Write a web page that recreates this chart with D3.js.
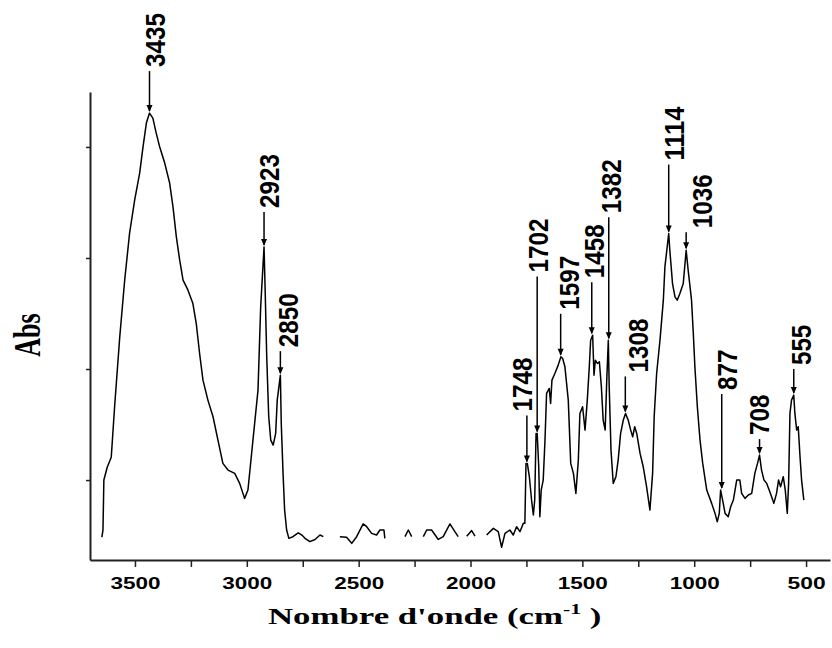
<!DOCTYPE html>
<html>
<head>
<meta charset="utf-8">
<script src="https://cdn.jsdelivr.net/npm/d3@7"></script>
<style>
  body { margin: 0; background: #fff; }
  #chart { width: 832px; height: 648px; }
  .axis path, .axis line { stroke: #222; }
</style>
</head>
<body>
<div id="chart"></div>
<script>
// spectrum (null = gap in the trace)
const wavenumber = [
  3648, 3643, 3639, 3624, 3606, 3591, 3568, 3546, 3524, 3501, 3479, 3464, 3449, 3435, 3420, 3405,
  3390, 3367, 3345, 3330, 3315, 3300, 3285, 3263, 3241, 3226, 3211, 3196, 3174, 3151, 3129, 3107,
  3084, 3054, 3032, 3010, 2995, 2980, 2965, 2950, 2938, 2923, 2918, 2911, 2902, 2893, 2882, 2871,
  2864, 2850, 2846, 2838, 2831, 2822, 2812, 2794, 2770, 2754, 2740, 2718, 2695, 2673, 2658, 2620,
  2584, 2554, 2531, 2509, 2480, 2464, 2442, 2420, 2405, 2387, 2383, 2340, 2293, 2278, 2263, 2240,
  2211, 2196, 2174, 2144, 2122, 2092, 2070, 2055, 2035, 2017, 1995, 1980, 1955, 1928, 1898, 1876,
  1861, 1846, 1824, 1809, 1794, 1779, 1764, 1757, 1752, 1746, 1737, 1727, 1719, 1713, 1707, 1702,
  1695, 1690, 1684, 1675, 1667, 1660, 1648, 1642, 1636, 1623, 1608, 1596, 1588, 1578, 1563, 1552,
  1540, 1529, 1518, 1511, 1499, 1488, 1478, 1469, 1463, 1454, 1448, 1442, 1433, 1424, 1415, 1407,
  1398, 1391, 1384, 1380, 1372, 1362, 1350, 1340, 1329, 1317, 1307, 1295, 1284, 1275, 1266, 1257,
  1242, 1228, 1213, 1198, 1186, 1179, 1168, 1153, 1138, 1131, 1114, 1109, 1097, 1086, 1076, 1064,
  1049, 1036, 1027, 1012, 1004, 997, 986, 974, 962, 944, 922, 907, 897, 888, 882, 873,
  862, 848, 837, 825, 810, 796, 788, 773, 758, 743, 729, 717, 708, 699, 688, 676,
  665, 654, 644, 632, 623, 614, 602, 593, 584, 578, 572, 565, 555, 550, 542, 535,
  527, 520, 510
];
const absorbance = [
  0.097, 0.110, 0.200, 0.223, 0.241, 0.332, 0.458, 0.560, 0.645, 0.705, 0.753, 0.800, 0.843, 0.861, 0.852, 0.825,
  0.801, 0.771, 0.735, 0.692, 0.638, 0.596, 0.560, 0.542, 0.518, 0.482, 0.428, 0.380, 0.344, 0.314, 0.272, 0.230,
  0.218, 0.212, 0.194, 0.167, 0.182, 0.242, 0.302, 0.362, 0.512, 0.620, 0.542, 0.422, 0.314, 0.272, 0.263, 0.284,
  0.344, 0.389, 0.302, 0.212, 0.146, 0.110, 0.095, 0.098, 0.105, 0.101, 0.095, 0.089, 0.093, 0.101, 0.098, null,
  0.098, 0.097, 0.086, 0.098, 0.121, 0.116, 0.104, 0.101, 0.110, 0.110, 0.095, null, 0.098, 0.110, 0.098, null,
  0.098, 0.110, 0.110, 0.093, 0.098, 0.121, 0.107, 0.098, null, 0.099, 0.109, 0.099, null, 0.101, 0.113, 0.107,
  0.079, 0.104, 0.110, 0.101, 0.116, 0.107, 0.122, 0.122, 0.230, 0.230, 0.206, 0.164, 0.137, 0.164, 0.284, 0.284,
  0.224, 0.134, 0.182, 0.200, 0.272, 0.356, 0.365, 0.338, 0.380, 0.392, 0.407, 0.422, 0.419, 0.404, 0.344, 0.230,
  0.212, 0.176, 0.236, 0.320, 0.332, 0.290, 0.344, 0.404, 0.452, 0.461, 0.389, 0.416, 0.410, 0.413, 0.368, 0.308,
  0.290, 0.380, 0.452, 0.368, 0.254, 0.194, 0.206, 0.236, 0.284, 0.308, 0.320, 0.308, 0.290, 0.278, 0.296, 0.284,
  0.248, 0.224, 0.188, 0.146, 0.212, 0.314, 0.392, 0.452, 0.524, 0.584, 0.644, 0.614, 0.554, 0.530, 0.524, 0.536,
  0.554, 0.614, 0.578, 0.524, 0.464, 0.404, 0.332, 0.272, 0.230, 0.182, 0.158, 0.140, 0.125, 0.140, 0.182, 0.164,
  0.140, 0.134, 0.152, 0.164, 0.200, 0.200, 0.176, 0.167, 0.173, 0.176, 0.212, 0.230, 0.245, 0.218, 0.200, 0.194,
  0.182, 0.170, 0.158, 0.176, 0.200, 0.188, 0.206, 0.182, 0.140, 0.194, 0.320, 0.344, 0.353, 0.320, 0.290, 0.296,
  0.242, 0.200, 0.164
];

// annotated peaks
const peakWavenumber = [3435, 2923, 2850, 1748, 1702, 1597, 1458, 1382, 1308, 1114, 1036, 877, 708, 555];
const peakAbsorbance = [0.861, 0.620, 0.389, 0.230, 0.284, 0.422, 0.461, 0.452, 0.320, 0.644, 0.614, 0.182, 0.245, 0.353];

// axes
const xTicks = [3500, 3250, 3000, 2750, 2500, 2250, 2000, 1750, 1500, 1250, 1000, 750, 500];
const xTickLabels = ["3500", "", "3000", "", "2500", "", "2000", "", "1500", "", "1000", "", "500"];
const yTicks = [0.2, 0.4, 0.6, 0.8];

// label placement (px): gap between label and peak, sideways nudge
const labelGap = [46, 39, 28, 52, 161, 47, 57, 127, 41, 73, 22, 100, 20, 30];
const labelShift = [6, 5, 8, -5, 1, 8, 2, 2, 13, 5, 16, 5, 0, 7];

// the source picture is stretched sideways
const stretchX = 1.45;

class IrSpectrum {
  constructor(el, { wavenumber, absorbance, peakWavenumber, peakAbsorbance }) {
    this.el = el;
    this.wavenumber = wavenumber;
    this.absorbance = absorbance;
    this.peakWavenumber = peakWavenumber;
    this.peakAbsorbance = peakAbsorbance;
    this.init();
  }

  init() {
    this.setup();
    this.scaffold();
    this.wrangle();
    this.render();
  }

  setup() {
    this.width = 832;
    this.height = 648;
    this.x = d3.scaleLinear().domain([3701, 393]).range([90, 830]);
    this.y = d3.scaleLinear().domain([0.056, 0.899]).range([560, 92]);
  }

  scaffold() {
    this.svg = d3
      .select(this.el)
      .append("svg")
      .attr("width", this.width)
      .attr("height", this.height);
    this.gx = this.svg.append("g").attr("class", "axis x-axis");
    this.gy = this.svg.append("g").attr("class", "axis y-axis");
    this.pathLine = this.svg
      .append("path")
      .attr("fill", "none")
      .attr("stroke", "#000")
      .attr("stroke-width", 1.5)
      .attr("stroke-linejoin", "round");
    this.gPeaks = this.svg.append("g").attr("class", "peaks");
  }

  wrangle() {
    this.lineData = this.wavenumber.map((w, i) => ({ w, a: this.absorbance[i] }));
    this.peakData = this.peakWavenumber.map((w, i) => ({
      w,
      a: this.peakAbsorbance[i],
      gap: labelGap[i],
      shift: labelShift[i],
    }));
  }

  render() {
    const x = this.x;
    const y = this.y;

    this.gx
      .attr("transform", `translate(0,${y.range()[0]})`)
      .call(
        d3.axisBottom(x)
          .tickValues(xTicks)
          .tickSize(7)
          .tickSizeOuter(0)
          .tickFormat((d, i) => xTickLabels[i])
      );
    this.gx.select(".domain").attr("stroke-width", 2);
    this.gx.selectAll(".tick line").attr("stroke-width", 1.5);
    this.gx
      .selectAll(".tick text")
      .attr("y", 18)
      .attr("font-family", "Liberation Sans, Arial, sans-serif")
      .attr("font-weight", "bold")
      .attr("font-size", 16)
      .attr("fill", "#000")
      .attr("textLength", (d, i) => (xTickLabels[i].length === 3 ? 38 : 50))
      .attr("lengthAdjust", "spacingAndGlyphs");

    this.gy
      .attr("transform", `translate(${x.range()[0]},0)`)
      .call(d3.axisLeft(y).tickValues(yTicks).tickSize(4).tickSizeOuter(0).tickFormat(""));
    this.gy.select(".domain").attr("stroke-width", 2);
    this.gy.selectAll(".tick line").attr("stroke-width", 1.5);

    const line = d3
      .line()
      .defined((d) => d.a !== null)
      .x((d) => x(d.w))
      .y((d) => y(d.a));
    this.pathLine.attr("d", line(this.lineData));

    const peak = this.gPeaks
      .selectAll("g")
      .data(this.peakData)
      .join("g")
      .attr("transform", (d) => `translate(${x(d.w)},${y(d.a)})`);

    peak
      .append("line")
      .attr("x1", 0)
      .attr("x2", 0)
      .attr("y1", (d) => -d.gap + 4)
      .attr("y2", -2)
      .attr("stroke", "#000")
      .attr("stroke-width", 1.5);

    peak
      .append("path")
      .attr("d", "M-3,-8L3,-8L0,-1Z")
      .attr("fill", "#000");

    peak
      .append("text")
      .attr("transform", (d) => `translate(${d.shift},${-d.gap}) scale(${stretchX},1) rotate(-90)`)
      .attr("dy", "0.36em")
      .attr("font-family", "Liberation Sans, Arial, sans-serif")
      .attr("font-weight", "bold")
      .attr("font-size", 19)
      .attr("fill", "#000")
      .attr("textLength", (d) => String(d.w).length * 13.5)
      .attr("lengthAdjust", "spacingAndGlyphs")
      .text((d) => d.w);

    this.svg
      .append("text")
      .attr("transform", `translate(27,335) scale(${stretchX},1) rotate(-90)`)
      .attr("text-anchor", "middle")
      .attr("dy", "0.35em")
      .attr("font-family", "Liberation Serif, Times New Roman, serif")
      .attr("font-weight", "bold")
      .attr("font-size", 26)
      .text("Abs");

    const title = this.svg
      .append("text")
      .attr("transform", `translate(268,624) scale(${stretchX},1)`)
      .attr("font-family", "Liberation Serif, Times New Roman, serif")
      .attr("font-weight", "bold")
      .attr("font-size", 24);
    title.append("tspan").text("Nombre d'onde (cm");
    title.append("tspan").attr("font-size", 15).attr("dy", -10).text("-1");
    title.append("tspan").attr("dy", 10).text(" )");
  }
}

new IrSpectrum(document.getElementById("chart"), {
  wavenumber,
  absorbance,
  peakWavenumber,
  peakAbsorbance,
});
</script>
</body>
</html>
